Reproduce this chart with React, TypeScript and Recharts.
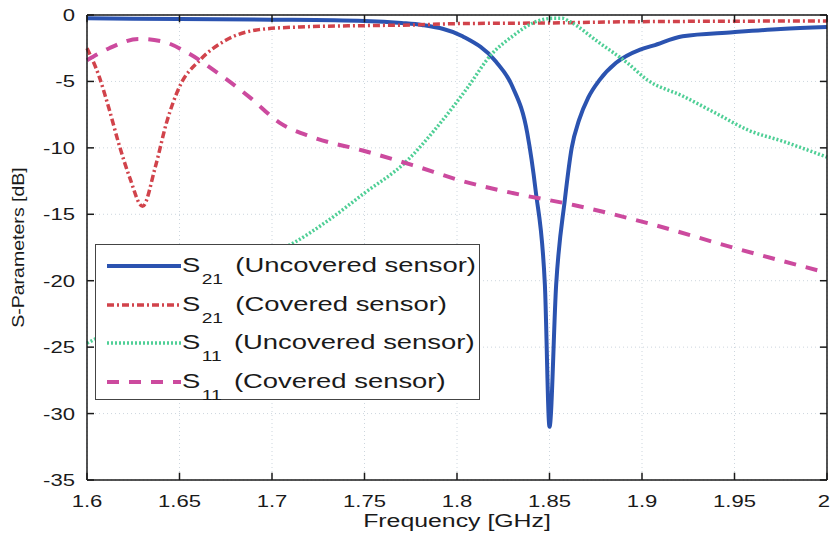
import React from "react";
import { LineChart, Line, XAxis, YAxis, CartesianGrid, Label, ReferenceLine } from "recharts";

// axis ticks
const xTicks = [1.6, 1.65, 1.7, 1.75, 1.8, 1.85, 1.9, 1.95, 2];
const yTicks = [-35, -30, -25, -20, -15, -10, -5, 0];
const xDomain = [1.6, 2];
const yDomain = [-35, 0];

// S21, uncovered sensor
const s21UncFreq = [1.6, 1.65, 1.7, 1.75, 1.77, 1.781, 1.803, 1.821, 1.83, 1.838, 1.8425, 1.8475, 1.85, 1.8536, 1.8583, 1.862, 1.866, 1.871, 1.877, 1.886, 1.899, 1.906, 1.922, 1.949, 1.975, 2.0];
const s21UncDb = [-0.25, -0.3, -0.35, -0.45, -0.6, -0.75, -1.6, -3.5, -5.4, -8.9, -13.2, -20.3, -31, -20.3, -13.9, -10.0, -7.9, -6.2, -4.9, -3.6, -2.6, -2.3, -1.6, -1.3, -1.05, -0.9];

// S21, covered sensor
const s21CovFreq = [1.6, 1.6065, 1.612, 1.617, 1.623, 1.63, 1.637, 1.643, 1.65, 1.661, 1.675, 1.693, 1.715, 1.75, 1.776, 1.8, 1.848, 1.9, 2.0];
const s21CovDb = [-2.5, -4.6, -7.1, -9.6, -12.2, -14.4, -11.4, -8.1, -5.4, -3.4, -1.9, -1.1, -0.9, -0.8, -0.75, -0.65, -0.6, -0.5, -0.45];

// S11, uncovered sensor
const s11UncFreq = [1.6, 1.63, 1.66, 1.69, 1.711, 1.73, 1.75, 1.772, 1.79, 1.805, 1.819, 1.83, 1.841, 1.852, 1.857, 1.861, 1.877, 1.892, 1.903, 1.922, 1.94, 1.958, 1.976, 2.0];
const s11UncDb = [-24.7, -22.6, -20.5, -18.5, -17.2, -15.5, -13.4, -11.1, -8.3, -5.6, -2.9, -1.6, -0.6, -0.25, -0.25, -0.5, -2.1, -3.6, -4.9, -6.1, -7.4, -8.7, -9.5, -10.7];

// S11, covered sensor
const s11CovFreq = [1.6, 1.612, 1.628, 1.641, 1.655, 1.67, 1.688, 1.704, 1.722, 1.749, 1.776, 1.803, 1.83, 1.863, 1.904, 1.949, 2.0];
const s11CovDb = [-3.4, -2.5, -1.8, -2.0, -2.9, -4.3, -6.2, -8.1, -9.2, -10.2, -11.3, -12.5, -13.4, -14.3, -15.7, -17.5, -19.4];

const toPoints = (f: number[], v: number[]) => f.map((x, i) => ({ f: x, db: v[i] }));

const series = [
  { key: "s21u", sub: "21", label: "(Uncovered sensor)", color: "#2b53b0", width: 4, dash: undefined, data: toPoints(s21UncFreq, s21UncDb) },
  { key: "s21c", sub: "21", label: "(Covered sensor)", color: "#d1434b", width: 3.5, dash: "7 3 2 3", data: toPoints(s21CovFreq, s21CovDb) },
  { key: "s11u", sub: "11", label: "(Uncovered sensor)", color: "#4fcf96", width: 3.5, dash: "2 2", data: toPoints(s11UncFreq, s11UncDb) },
  { key: "s11c", sub: "11", label: "(Covered sensor)", color: "#cc4a9e", width: 4, dash: "12 10", data: toPoints(s11CovFreq, s11CovDb) },
];

const FONT = "'Liberation Sans', Arial, sans-serif";
const SX = 1.38;
const INK = "#1a1a1a";
// inward tick length, in axis units (about 7px each way)
const TICK_DB = 0.55;
const TICK_GHZ = 0.0038;

function BottomTick({ x, y, payload }: any) {
  const last = payload.value === xTicks[xTicks.length - 1];
  return (
    <text
      transform={`translate(${last ? x - 3 : x},${y + 27}) scale(${SX},1)`}
      textAnchor="middle"
      fontSize={16}
      fill={INK}
      fontFamily={FONT}
    >
      {String(payload.value)}
    </text>
  );
}

function LeftTick({ x, y, payload }: any) {
  return (
    <text transform={`translate(${x - 12},${y + 6}) scale(${SX},1)`} textAnchor="end" fontSize={16} fill={INK} fontFamily={FONT}>
      {String(payload.value)}
    </text>
  );
}

function YTitle({ viewBox }: any) {
  const { x, y, height } = viewBox;
  return (
    <text transform={`translate(${x + 24},${y + height / 2}) rotate(-90) scale(1.15,1)`} textAnchor="middle" fontSize={17} fill={INK} fontFamily={FONT}>
      S-Parameters [dB]
    </text>
  );
}

function XTitle({ viewBox }: any) {
  const { x, y, width } = viewBox;
  return (
    <text transform={`translate(${x + width / 2},${y + 47}) scale(${SX},1)`} textAnchor="middle" fontSize={18} fill={INK} fontFamily={FONT}>
      Frequency [GHz]
    </text>
  );
}

function LegendBox() {
  return (
    <div style={{ position: "absolute", left: 95, top: 244, width: 385, height: 156, border: "1.5px solid #444", background: "#fff", boxSizing: "border-box" }}>
      {series.map((s, i) => (
        <div key={s.key} style={{ position: "absolute", left: 0, top: 2 + i * 38.5, height: 38, width: "100%" }}>
          <svg width={74} height={38} style={{ position: "absolute", left: 11, top: 0 }}>
            <line x1={0} y1={19} x2={74} y2={19} stroke={s.color} strokeWidth={s.width} strokeDasharray={s.dash} />
          </svg>
          <div style={{ position: "absolute", left: 86, top: 7, lineHeight: "22px", whiteSpace: "nowrap", transform: "scaleX(1.37)", transformOrigin: "left", fontFamily: FONT, fontSize: 20, color: INK }}>
            S
            <span style={{ fontSize: 14, position: "relative", top: 12, marginLeft: 1 }}>{s.sub}</span>
            <span style={{ marginLeft: 9 }}>{s.label}</span>
          </div>
        </div>
      ))}
    </div>
  );
}

const axisLine = { stroke: INK, strokeWidth: 1.5 };
const [x0, x1] = xDomain;
const [y0, y1] = yDomain;

export default function App() {
  return (
    <div style={{ position: "absolute", left: 0, top: 0, width: 831, height: 542, background: "#fff" }}>
      <LineChart width={831} height={542} margin={{ top: 15, right: 4, bottom: 0, left: 0 }}>
        <CartesianGrid stroke="#cdd6de" strokeDasharray="1 3" />
        <XAxis
          dataKey="f"
          type="number"
          domain={xDomain}
          ticks={xTicks}
          height={62}
          tickSize={0}
          tickMargin={0}
          tickLine={false}
          tick={BottomTick}
          axisLine={axisLine}
        >
          <Label content={XTitle} />
        </XAxis>
        <YAxis
          type="number"
          domain={yDomain}
          ticks={yTicks}
          width={87}
          tickSize={0}
          tickMargin={0}
          tickLine={false}
          tick={LeftTick}
          axisLine={axisLine}
        >
          <Label content={YTitle} />
        </YAxis>
        {series.map((s) => (
          <Line
            key={s.key}
            data={s.data}
            dataKey="db"
            type="monotone"
            dot={false}
            stroke={s.color}
            strokeWidth={s.width}
            strokeDasharray={s.dash}
            isAnimationActive={false}
          />
        ))}
        {/* box: top and right edges, plus inward ticks on all four sides */}
        <ReferenceLine y={y1} stroke={INK} strokeWidth={1.5} />
        <ReferenceLine x={x1} stroke={INK} strokeWidth={1.5} />
        {xTicks.map((t) => (
          <ReferenceLine key={`b${t}`} segment={[{ x: t, y: y0 }, { x: t, y: y0 + TICK_DB }]} stroke={INK} strokeWidth={1.5} />
        ))}
        {xTicks.map((t) => (
          <ReferenceLine key={`t${t}`} segment={[{ x: t, y: y1 }, { x: t, y: y1 - TICK_DB }]} stroke={INK} strokeWidth={1.5} />
        ))}
        {yTicks.map((t) => (
          <ReferenceLine key={`l${t}`} segment={[{ x: x0, y: t }, { x: x0 + TICK_GHZ, y: t }]} stroke={INK} strokeWidth={1.5} />
        ))}
        {yTicks.map((t) => (
          <ReferenceLine key={`r${t}`} segment={[{ x: x1 - TICK_GHZ, y: t }, { x: x1, y: t }]} stroke={INK} strokeWidth={1.5} />
        ))}
      </LineChart>
      <LegendBox />
    </div>
  );
}
